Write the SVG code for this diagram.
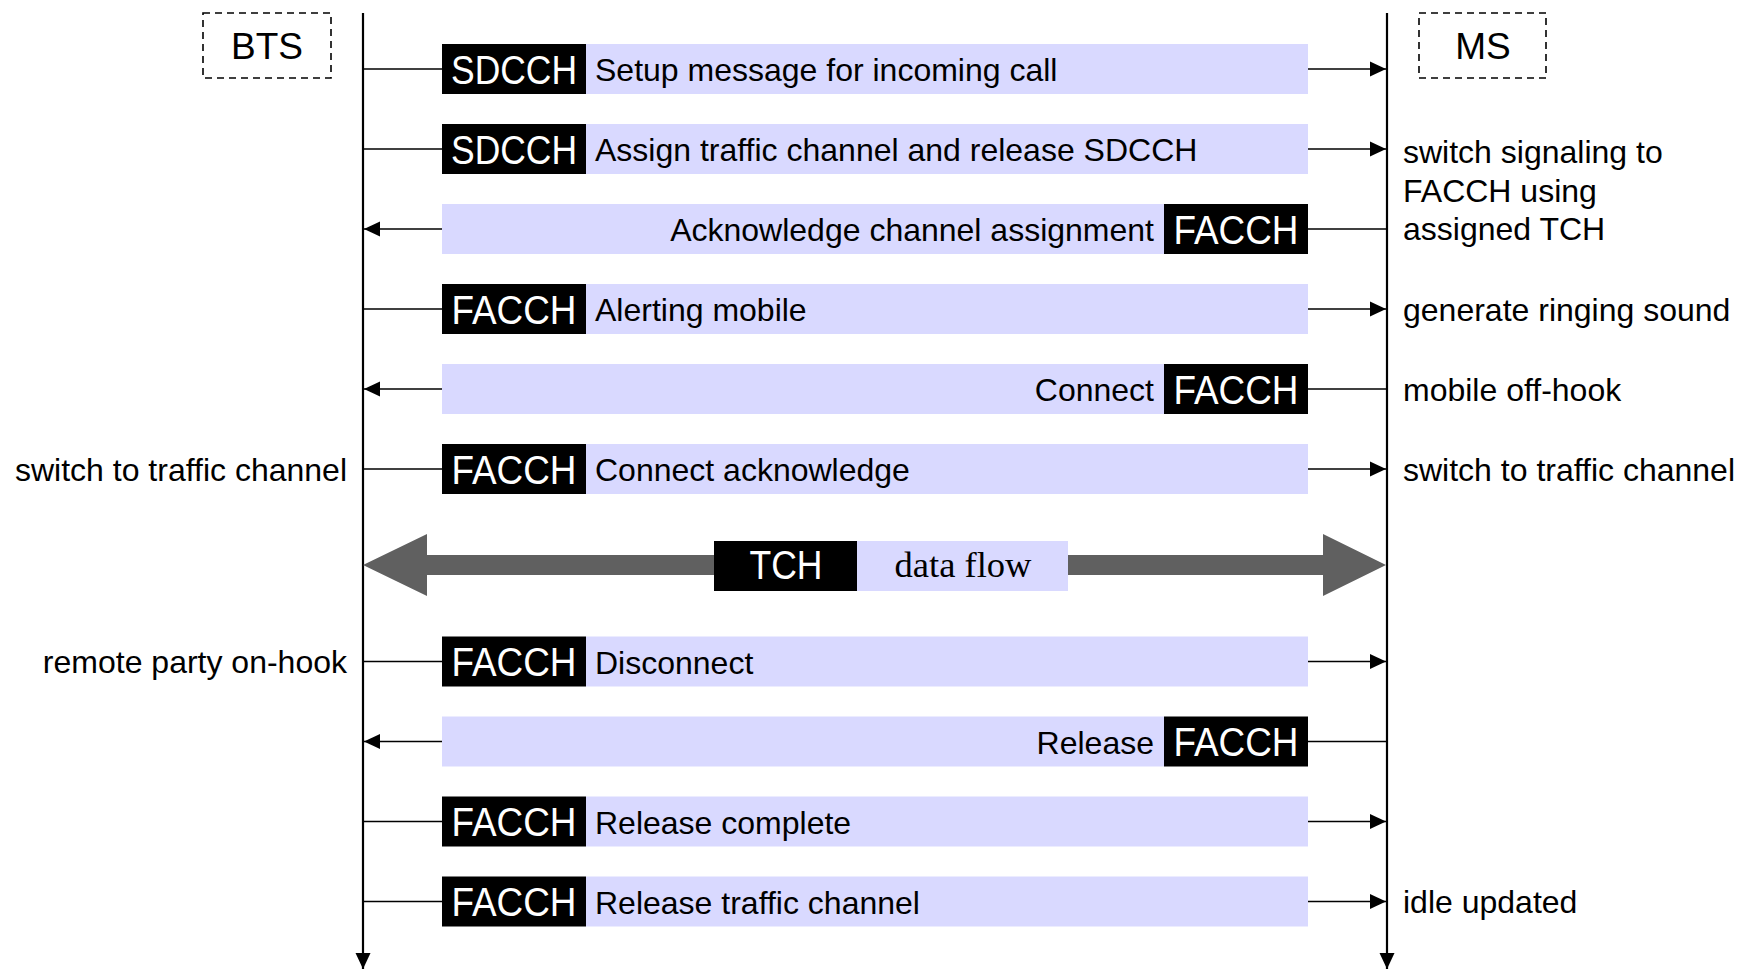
<svg xmlns="http://www.w3.org/2000/svg" width="1748" height="969" viewBox="0 0 1748 969">
<style>
.bg{fill:#d9d9ff}
.lab{fill:#000}
.lt{font-family:"Liberation Sans",Arial,sans-serif;font-size:40px;fill:#fff;text-anchor:middle}
.mt{font-family:"Liberation Sans",Arial,sans-serif;font-size:32px;fill:#000}
.hd{font-family:"Liberation Sans",Arial,sans-serif;font-size:37px;fill:#000;text-anchor:middle}
.r{text-anchor:end}
.c{text-anchor:middle}
.ln{stroke:#000;stroke-width:1.6;fill:none}
.life{stroke:#000;stroke-width:2.2;fill:none}
.dash{fill:none;stroke:#000;stroke-width:1.6;stroke-dasharray:7 5}
</style>
<defs>
<marker id="ah" viewBox="0 0 16 16" refX="16" refY="8" markerWidth="16" markerHeight="16" markerUnits="userSpaceOnUse" orient="auto">
<path d="M0,0.5 L16,8 L0,15.5 Z" fill="#000"/>
</marker>
</defs>
<rect width="1748" height="969" fill="#fff"/>

<g id="bts">
<rect class="dash" x="203" y="13" width="128" height="65"/>
<text class="hd" x="267" y="59">BTS</text>
</g>
<g id="ms">
<rect class="dash" x="1419" y="13" width="127" height="65"/>
<text class="hd" x="1483" y="59">MS</text>
</g>

<g id="lifelines">
<line class="life" x1="363" y1="13" x2="363" y2="969" marker-end="url(#ah)"/>
<line class="life" x1="1387" y1="13" x2="1387" y2="969" marker-end="url(#ah)"/>
</g>

<g id="connectors">
<line class="ln" x1="363" y1="69" x2="442" y2="69"/><line class="ln" x1="1308" y1="69" x2="1386" y2="69" marker-end="url(#ah)"/>
<line class="ln" x1="363" y1="149" x2="442" y2="149"/><line class="ln" x1="1308" y1="149" x2="1386" y2="149" marker-end="url(#ah)"/>
<line class="ln" x1="1387" y1="229" x2="1308" y2="229"/><line class="ln" x1="442" y1="229" x2="364" y2="229" marker-end="url(#ah)"/>
<line class="ln" x1="363" y1="309" x2="442" y2="309"/><line class="ln" x1="1308" y1="309" x2="1386" y2="309" marker-end="url(#ah)"/>
<line class="ln" x1="1387" y1="389" x2="1308" y2="389"/><line class="ln" x1="442" y1="389" x2="364" y2="389" marker-end="url(#ah)"/>
<line class="ln" x1="363" y1="469" x2="442" y2="469"/><line class="ln" x1="1308" y1="469" x2="1386" y2="469" marker-end="url(#ah)"/>
<polygon points="363,565 427,534 427,555 1323,555 1323,534 1386,565 1323,596 1323,575 427,575 427,596" fill="#606060"/>
<line class="ln" x1="363" y1="661.5" x2="442" y2="661.5"/><line class="ln" x1="1308" y1="661.5" x2="1386" y2="661.5" marker-end="url(#ah)"/>
<line class="ln" x1="1387" y1="741.5" x2="1308" y2="741.5"/><line class="ln" x1="442" y1="741.5" x2="364" y2="741.5" marker-end="url(#ah)"/>
<line class="ln" x1="363" y1="821.5" x2="442" y2="821.5"/><line class="ln" x1="1308" y1="821.5" x2="1386" y2="821.5" marker-end="url(#ah)"/>
<line class="ln" x1="363" y1="901.5" x2="442" y2="901.5"/><line class="ln" x1="1308" y1="901.5" x2="1386" y2="901.5" marker-end="url(#ah)"/>
</g>

<g id="msg1">
<rect class="bg" x="586" y="44" width="722" height="50"/><rect class="lab" x="442" y="44" width="144" height="50"/>
<text class="lt" x="514" y="83.5" textLength="126" lengthAdjust="spacingAndGlyphs">SDCCH</text>
<text class="mt" x="595" y="81">Setup message for incoming call</text>
</g>
<g id="msg2">
<rect class="bg" x="586" y="124" width="722" height="50"/><rect class="lab" x="442" y="124" width="144" height="50"/>
<text class="lt" x="514" y="163.5" textLength="126" lengthAdjust="spacingAndGlyphs">SDCCH</text>
<text class="mt" x="595" y="161">Assign traffic channel and release SDCCH</text>
</g>
<g id="msg3">
<rect class="bg" x="442" y="204" width="722" height="50"/><rect class="lab" x="1164" y="204" width="144" height="50"/>
<text class="lt" x="1236" y="243.5" textLength="125" lengthAdjust="spacingAndGlyphs">FACCH</text>
<text class="mt r" x="1154" y="241">Acknowledge channel assignment</text>
</g>
<g id="msg4">
<rect class="bg" x="586" y="284" width="722" height="50"/><rect class="lab" x="442" y="284" width="144" height="50"/>
<text class="lt" x="514" y="323.5" textLength="125" lengthAdjust="spacingAndGlyphs">FACCH</text>
<text class="mt" x="595" y="321">Alerting mobile</text>
</g>
<g id="msg5">
<rect class="bg" x="442" y="364" width="722" height="50"/><rect class="lab" x="1164" y="364" width="144" height="50"/>
<text class="lt" x="1236" y="403.5" textLength="125" lengthAdjust="spacingAndGlyphs">FACCH</text>
<text class="mt r" x="1154" y="401">Connect</text>
</g>
<g id="msg6">
<rect class="bg" x="586" y="444" width="722" height="50"/><rect class="lab" x="442" y="444" width="144" height="50"/>
<text class="lt" x="514" y="483.5" textLength="125" lengthAdjust="spacingAndGlyphs">FACCH</text>
<text class="mt" x="595" y="481">Connect acknowledge</text>
</g>
<g id="dataflow">
<rect class="bg" x="857" y="541" width="211" height="50"/><rect class="lab" x="714" y="541" width="143" height="50"/>
<text class="lt" x="786" y="579" textLength="73" lengthAdjust="spacingAndGlyphs">TCH</text>
<text x="963" y="577" font-family="Liberation Serif,'Times New Roman',serif" font-size="36" text-anchor="middle" textLength="137" lengthAdjust="spacingAndGlyphs">data flow</text>
</g>
<g id="msg8">
<rect class="bg" x="586" y="636.5" width="722" height="50"/><rect class="lab" x="442" y="636.5" width="144" height="50"/>
<text class="lt" x="514" y="676" textLength="125" lengthAdjust="spacingAndGlyphs">FACCH</text>
<text class="mt" x="595" y="673.5">Disconnect</text>
</g>
<g id="msg9">
<rect class="bg" x="442" y="716.5" width="722" height="50"/><rect class="lab" x="1164" y="716.5" width="144" height="50"/>
<text class="lt" x="1236" y="756" textLength="125" lengthAdjust="spacingAndGlyphs">FACCH</text>
<text class="mt r" x="1154" y="753.5">Release</text>
</g>
<g id="msg10">
<rect class="bg" x="586" y="796.5" width="722" height="50"/><rect class="lab" x="442" y="796.5" width="144" height="50"/>
<text class="lt" x="514" y="836" textLength="125" lengthAdjust="spacingAndGlyphs">FACCH</text>
<text class="mt" x="595" y="833.5">Release complete</text>
</g>
<g id="msg11">
<rect class="bg" x="586" y="876.5" width="722" height="50"/><rect class="lab" x="442" y="876.5" width="144" height="50"/>
<text class="lt" x="514" y="916" textLength="125" lengthAdjust="spacingAndGlyphs">FACCH</text>
<text class="mt" x="595" y="913.5">Release traffic channel</text>
</g>

<g id="notes">
<text class="mt" x="1403" y="163">switch signaling to</text>
<text class="mt" x="1403" y="201.5">FACCH using</text>
<text class="mt" x="1403" y="240">assigned TCH</text>
<text class="mt" x="1403" y="320.5">generate ringing sound</text>
<text class="mt" x="1403" y="400.5">mobile off-hook</text>
<text class="mt" x="1403" y="480.5">switch to traffic channel</text>
<text class="mt" x="1403" y="913">idle updated</text>
<text class="mt r" x="347" y="480.5">switch to traffic channel</text>
<text class="mt r" x="347" y="673">remote party on-hook</text>
</g>
</svg>
